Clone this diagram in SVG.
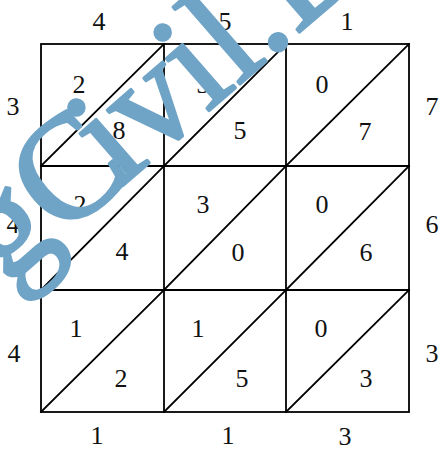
<svg xmlns="http://www.w3.org/2000/svg" width="441" height="450" viewBox="0 0 441 450">
<style>
.g{stroke:#000;stroke-width:1.8;fill:none;stroke-linecap:square}
.t{font-family:"Liberation Serif","Times New Roman",serif;font-size:26px;fill:#111;text-anchor:middle}
.wm{font-family:"Liberation Serif","Times New Roman",serif;font-weight:normal;font-size:147px;fill:#6fa4c7;stroke:#6fa4c7;stroke-width:3;stroke-linejoin:round}
</style>
<rect width="441" height="450" fill="#fff"/>
<g id="grid" class="g">
<rect x="41" y="44" width="368" height="368"/>
<line x1="164" y1="44" x2="164" y2="412"/>
<line x1="286" y1="44" x2="286" y2="412"/>
<line x1="41" y1="166" x2="409" y2="166"/>
<line x1="41" y1="290" x2="409" y2="290"/>
</g>
<g id="connectors" class="g">
<line x1="41" y1="166" x2="164" y2="44"/>
<line x1="164" y1="166" x2="286" y2="44"/>
<line x1="286" y1="166" x2="409" y2="44"/>
<line x1="41" y1="290" x2="164" y2="166"/>
<line x1="164" y1="290" x2="286" y2="166"/>
<line x1="286" y1="290" x2="409" y2="166"/>
<line x1="41" y1="412" x2="164" y2="290"/>
<line x1="164" y1="412" x2="286" y2="290"/>
<line x1="286" y1="412" x2="409" y2="290"/>
</g>
<g id="top-labels" class="t">
<text x="99" y="30">4</text><text x="225" y="30">5</text><text x="347" y="30">1</text>
</g>
<g id="left-labels" class="t">
<text x="13" y="115">3</text><text x="13" y="233">4</text><text x="14" y="362">4</text>
</g>
<g id="right-labels" class="t">
<text x="432" y="115">7</text><text x="432" y="233">6</text><text x="432" y="362">3</text>
</g>
<g id="bottom-labels" class="t">
<text x="97" y="444">1</text><text x="228" y="444">1</text><text x="345" y="445">3</text>
</g>
<g id="cell-r1c1" class="t"><text x="79" y="93">2</text><text x="119" y="139">8</text></g>
<g id="cell-r1c2" class="t"><text x="203" y="93">3</text><text x="240" y="139">5</text></g>
<g id="cell-r1c3" class="t"><text x="322" y="93">0</text><text x="365" y="140">7</text></g>
<g id="cell-r2c1" class="t"><text x="80" y="213">2</text><text x="122" y="260">4</text></g>
<g id="cell-r2c2" class="t"><text x="203" y="213">3</text><text x="238" y="261">0</text></g>
<g id="cell-r2c3" class="t"><text x="322" y="213">0</text><text x="366" y="261">6</text></g>
<g id="cell-r3c1" class="t"><text x="76" y="337">1</text><text x="121" y="387">2</text></g>
<g id="cell-r3c2" class="t"><text x="198" y="337">1</text><text x="242" y="387">5</text></g>
<g id="cell-r3c3" class="t"><text x="321" y="337">0</text><text x="366" y="387">3</text></g>
<g id="watermark" transform="translate(210,110) rotate(-41)">
<text class="wm" y="0"><tspan x="-270">gC</tspan><tspan x="-118.5">ivil.D</tspan></text>
</g>
</svg>
